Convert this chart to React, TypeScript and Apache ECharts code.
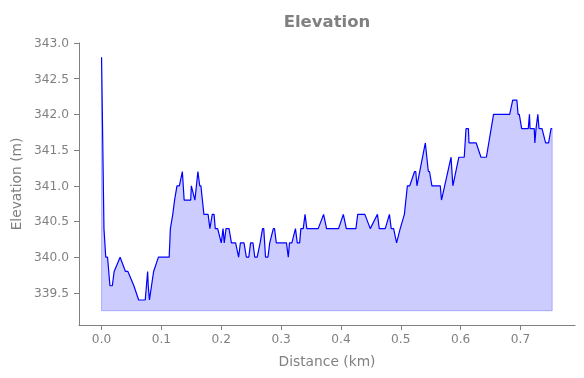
import React, { useEffect, useRef } from "react";
import * as echarts from "echarts";

const distanceKm: number[] = [
  0.0, 0.004, 0.007, 0.01, 0.014, 0.018, 0.021, 0.031, 0.04, 0.044, 0.054, 0.062, 0.073, 0.077, 0.078, 0.08,
  0.087, 0.095, 0.113, 0.115, 0.119, 0.122, 0.126, 0.13, 0.135, 0.138, 0.149, 0.15, 0.156, 0.161, 0.164, 0.166,
  0.171, 0.178, 0.181, 0.185, 0.188, 0.19, 0.194, 0.2, 0.203, 0.205, 0.208, 0.213, 0.217, 0.224, 0.229, 0.232,
  0.238, 0.242, 0.246, 0.249, 0.253, 0.256, 0.26, 0.265, 0.269, 0.271, 0.274, 0.278, 0.281, 0.287, 0.289, 0.292,
  0.309, 0.312, 0.314, 0.318, 0.324, 0.327, 0.331, 0.333, 0.337, 0.34, 0.343, 0.362, 0.371, 0.376, 0.396, 0.404,
  0.409, 0.425, 0.428, 0.44, 0.449, 0.461, 0.464, 0.474, 0.481, 0.484, 0.488, 0.493, 0.499, 0.506, 0.511, 0.515,
  0.523, 0.525, 0.527, 0.541, 0.546, 0.548, 0.552, 0.566, 0.568, 0.584, 0.587, 0.597, 0.606, 0.609, 0.613, 0.614,
  0.626, 0.634, 0.643, 0.655, 0.682, 0.687, 0.694, 0.696, 0.698, 0.702, 0.713, 0.715, 0.716, 0.723, 0.724, 0.726,
  0.729, 0.731, 0.736, 0.742, 0.747, 0.751, 0.753,
];

const elevationM: number[] = [
  342.8, 340.4, 340.0, 340.0, 339.6, 339.6, 339.8, 340.0, 339.8, 339.8, 339.6, 339.4, 339.4, 339.8, 339.6, 339.4,
  339.8, 340.0, 340.0, 340.4, 340.6, 340.8, 341.0, 341.0, 341.2, 340.8, 340.8, 341.0, 340.8, 341.2, 341.0, 341.0,
  340.6, 340.6, 340.4, 340.6, 340.6, 340.4, 340.4, 340.2, 340.4, 340.2, 340.4, 340.4, 340.2, 340.2, 340.0, 340.2,
  340.2, 340.0, 340.0, 340.2, 340.2, 340.0, 340.0, 340.2, 340.4, 340.4, 340.0, 340.0, 340.2, 340.4, 340.4, 340.2,
  340.2, 340.0, 340.2, 340.2, 340.4, 340.2, 340.2, 340.4, 340.4, 340.6, 340.4, 340.4, 340.6, 340.4, 340.4, 340.6,
  340.4, 340.4, 340.6, 340.6, 340.4, 340.6, 340.4, 340.4, 340.6, 340.4, 340.4, 340.2, 340.4, 340.6, 341.0, 341.0,
  341.2, 341.2, 341.0, 341.6, 341.2, 341.2, 341.0, 341.0, 340.8, 341.4, 341.0, 341.4, 341.4, 341.8, 341.8, 341.6,
  341.6, 341.4, 341.4, 342.0, 342.0, 342.2, 342.2, 342.0, 342.0, 341.8, 341.8, 342.0, 341.8, 341.8, 341.6, 341.8,
  342.0, 341.8, 341.8, 341.6, 341.6, 341.8, 341.8,
];

const fillBase = 339.25;
const xTicks: number[] = [0.0, 0.1, 0.2, 0.3, 0.4, 0.5, 0.6, 0.7];
const yTicks: number[] = [339.5, 340.0, 340.5, 341.0, 341.5, 342.0, 342.5, 343.0];

const GRAY = "#808080";
const FONT = "DejaVu Sans";

export default function App() {
  const ref = useRef<HTMLDivElement>(null);
  useEffect(() => {
    if (!ref.current) return;
    const chart = echarts.init(ref.current, undefined, { renderer: "svg" });
    const data = distanceKm.map((d, i) => [d, elevationM[i]]);
    const n = distanceKm.length;
    const edge = [
      [distanceKm[0], elevationM[0]],
      [distanceKm[0], fillBase],
      [distanceKm[n - 1], fillBase],
      [distanceKm[n - 1], elevationM[n - 1]],
    ];
    chart.setOption({
      animation: false,
      title: {
        text: "Elevation",
        left: 322,
        top: 8,
        textAlign: "center",
        textStyle: { color: GRAY, fontFamily: FONT, fontWeight: "bold", fontSize: 16.5 },
      },
      grid: { left: 79, top: 43, width: 496, height: 282, containLabel: false },
      xAxis: {
        type: "value",
        min: -0.0377,
        max: 0.7911,
        name: "Distance (km)",
        nameLocation: "middle",
        nameGap: 29,
        nameTextStyle: { color: GRAY, fontFamily: FONT, fontSize: 13.8 },
        axisLine: { show: true, onZero: false, lineStyle: { color: GRAY, width: 1 } },
        axisTick: { show: true, length: 5, lineStyle: { color: GRAY }, customValues: xTicks },
        axisLabel: {
          color: GRAY,
          fontFamily: FONT,
          fontSize: 12.2,
          margin: 8,
          customValues: xTicks,
          formatter: (v: number) => v.toFixed(1),
        },
        splitLine: { show: false },
      },
      yAxis: {
        type: "value",
        min: 339.05,
        max: 343.0,
        name: "Elevation (m)",
        nameLocation: "middle",
        nameGap: 56,
        nameTextStyle: { color: GRAY, fontFamily: FONT, fontSize: 13.8 },
        axisLine: { show: true, onZero: false, lineStyle: { color: GRAY, width: 1 } },
        axisTick: { show: true, length: 5, lineStyle: { color: GRAY }, customValues: yTicks },
        axisLabel: {
          color: GRAY,
          fontFamily: FONT,
          fontSize: 12.2,
          margin: 10,
          customValues: yTicks,
          formatter: (v: number) => v.toFixed(1),
        },
        splitLine: { show: false },
      },
      series: [
        {
          type: "line",
          data,
          showSymbol: false,
          symbol: "none",
          lineStyle: { color: "#0000ff", width: 1.2 },
          areaStyle: { color: "rgba(0,0,255,0.2)", origin: fillBase, opacity: 1 },
          z: 3,
        },
        {
          type: "line",
          data: edge,
          showSymbol: false,
          symbol: "none",
          lineStyle: { color: "rgba(0,0,255,0.25)", width: 1 },
          z: 2,
        },
      ],
    });
    return () => chart.dispose();
  }, []);
  return (
    <div
      ref={ref}
      style={{ position: "fixed", left: 0, top: 0, width: 584, height: 378 }}
    />
  );
}
